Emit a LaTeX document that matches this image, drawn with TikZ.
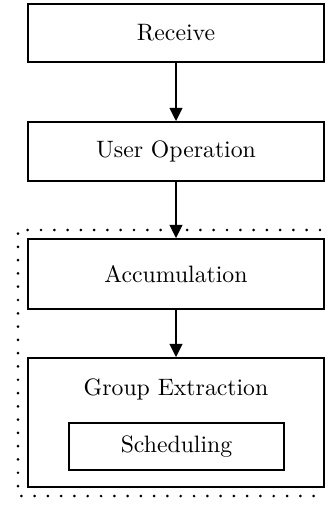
\documentclass[tikz,border=0pt]{standalone}
\usetikzlibrary{arrows.meta}
\newdimen\unitpx
\unitpx=0.4215pt
\tikzset{
  box/.style={draw, line width=0.8pt, rectangle, inner sep=0pt,
    minimum width={296*\unitpx}, font=\normalsize},
  flow/.style={line width=0.7pt, -{Triangle[length=5.6pt,width=5.4pt]}},
  frame/.style={line width=1.25pt, dash pattern=on 0pt off 5.6pt, line cap=round},
}
\begin{document}
\begin{tikzpicture}[x=0.4215pt, y=-0.4215pt]
  \useasboundingbox (0,0) rectangle (328,512);

  % dotted grouping frame (open on the right)
  \draw[frame] (320,230) -- (18,230) -- (18,496) -- (322,496);

  % process boxes
  \node[box, minimum height={58*\unitpx}] (rec) at (176,33) {Receive};
  \node[box, minimum height={59*\unitpx}] (uop) at (176,151.5) {User Operation};
  \node[box, minimum height={70*\unitpx}] (acc) at (176,274) {Accumulation};
  \node[box, minimum height={129*\unitpx}] (grp) at (176,422.5) {};
  \node (grptitle) at (176,389) {Group Extraction};
  \node[box, minimum width={215*\unitpx}, minimum height={47*\unitpx}] (sch) at (176.5,446.5) {Scheduling};

  % connectors
  \draw[flow] (rec.south) -- (uop.north);
  \draw[flow] (uop.south) -- (acc.north);
  \draw[flow] (acc.south) -- (grp.north);
\end{tikzpicture}
\end{document}
